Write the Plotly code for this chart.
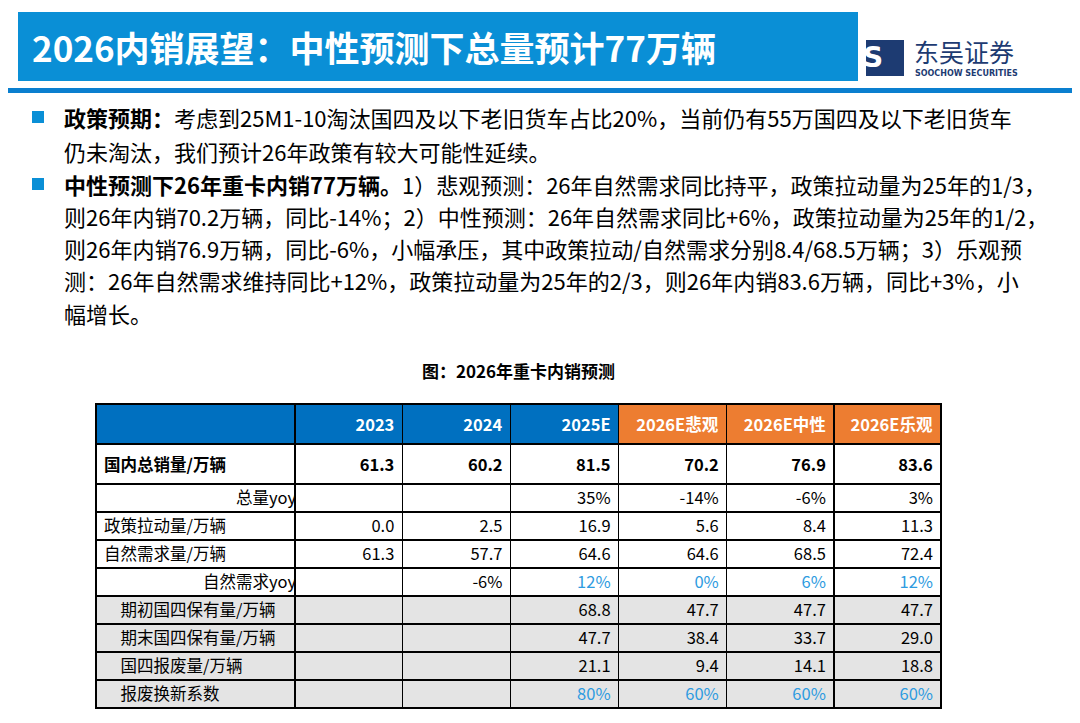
import plotly.graph_objects as go

# table data
columns = ["", "2023", "2024", "2025E", "2026E悲观", "2026E中性", "2026E乐观"]
row_labels = ["国内总销量/万辆", "总量yoy", "政策拉动量/万辆", "自然需求量/万辆", "自然需求yoy",
              "期初国四保有量/万辆", "期末国四保有量/万辆", "国四报废量/万辆", "报废换新系数"]
col_2023 = ["61.3", "", "0.0", "61.3", "", "", "", "", ""]
col_2024 = ["60.2", "", "2.5", "57.7", "-6%", "", "", "", ""]
col_2025 = ["81.5", "35%", "16.9", "64.6", "12%", "68.8", "47.7", "21.1", "80%"]
col_bear = ["70.2", "-14%", "5.6", "64.6", "0%", "47.7", "38.4", "9.4", "60%"]
col_base = ["76.9", "-6%", "8.4", "68.5", "6%", "47.7", "33.7", "14.1", "60%"]
col_bull = ["83.6", "3%", "11.3", "72.4", "12%", "47.7", "29.0", "18.8", "60%"]

title = "2026内销展望：中性预测下总量预计77万辆"
body_lines = [
    ("<b>政策预期：</b>考虑到25M1-10淘汰国四及以下老旧货车占比20%，当前仍有55万国四及以下老旧货车", True),
    ("仍未淘汰，我们预计26年政策有较大可能性延续。", False),
    ("<b>中性预测下26年重卡内销77万辆。</b>1）悲观预测：26年自然需求同比持平，政策拉动量为25年的1/3，", True),
    ("则26年内销70.2万辆，同比-14%；2）中性预测：26年自然需求同比+6%，政策拉动量为25年的1/2，", False),
    ("则26年内销76.9万辆，同比-6%，小幅承压，其中政策拉动/自然需求分别8.4/68.5万辆；3）乐观预", False),
    ("测：26年自然需求维持同比+12%，政策拉动量为25年的2/3，则26年内销83.6万辆，同比+3%，小", False),
    ("幅增长。", False),
]
line_y = [117, 151, 184, 216, 248, 280, 313]

W, H = 1080, 723
OFF = 8  # page body margin
FONT = "Noto Sans CJK SC"
BLUE_NUM = "#2e9be0"
GRAY = "#e4e4e4"

def px(x): return (x - OFF) / W
def py(y): return 1 - (y - OFF) / H

fig = go.Figure()

# label column: indentation via full-width spaces
pad = [0, 8, 0, 0, 6, 1, 1, 1, 1]
labels = []
for i, lab in enumerate(row_labels):
    t = "\u3000" * pad[i] + lab
    labels.append("<b>" + t + "</b>" if i == 0 else t)

data_cols = [col_2023, col_2024, col_2025, col_bear, col_base, col_bull]
cells = [labels] + [["<b>" + c[0] + "</b>"] + c[1:] for c in data_cols]
row_fill = ["white"] * 5 + [GRAY] * 4
font_colors = [["black"] * 9]
for j, c in enumerate(data_cols):
    fc = ["black"] * 9
    if j >= 2:
        fc[4] = BLUE_NUM
        fc[8] = BLUE_NUM
    font_colors.append(fc)

head_fill = ["#0070c0"] * 4 + ["#ed7d31"] * 3
fig.add_trace(go.Table(
    domain=dict(x=[px(96), px(941)], y=[0, py(404)]),
    columnwidth=[199, 107, 108, 108, 108, 107, 107],
    header=dict(values=["<b>" + c + "</b>" for c in columns], fill_color=head_fill,
                font=dict(family=FONT, size=16.5, color="white"), align="right", height=28,
                line=dict(color="black", width=1.5)),
    cells=dict(values=cells, fill_color=[row_fill] * 7,
               font=dict(family=FONT, size=16.5, color=font_colors),
               align=["left"] + ["right"] * 6, height=28,
               line=dict(color="black", width=1.5)),
))

shapes = [
    dict(type="rect", xref="paper", yref="paper", x0=px(18), x1=px(858), y0=py(81), y1=py(12),
         fillcolor="#0a8fd6", line_width=0),
    dict(type="rect", xref="paper", yref="paper", x0=px(0), x1=px(1090), y0=py(93), y1=py(88),
         fillcolor="#0a7fcf", line_width=0),
    dict(type="rect", xref="paper", yref="paper", x0=px(866), x1=px(904), y0=py(76), y1=py(40),
         fillcolor="#1d3b72", line_width=0),
]
annotations = [
    dict(x=px(30), y=py(46), text="<b>" + title + "</b>", showarrow=False, xanchor="left",
         yanchor="middle", font=dict(family=FONT, size=35, color="white")),
    dict(x=px(885), y=py(58), text="<b>S</b>", showarrow=False, yanchor="middle",
         font=dict(family="DejaVu Sans", size=28, color="white")),
    dict(x=px(912), y=py(51), text="东吴证券", showarrow=False, xanchor="left", yanchor="middle",
         font=dict(family=FONT, size=25, color="#1d3b72")),
    dict(x=px(913), y=py(73), text="<b>SOOCHOW SECURITIES</b>", showarrow=False, xanchor="left",
         yanchor="middle", font=dict(family="DejaVu Sans", size=8, color="#1d3b72")),
    dict(x=px(518), y=py(370), text="<b>图：2026年重卡内销预测</b>", showarrow=False,
         yanchor="middle", font=dict(family=FONT, size=17, color="black")),
]
for (txt, bullet), y in zip(body_lines, line_y):
    annotations.append(dict(x=px(62), y=py(y), text=txt, showarrow=False, xanchor="left",
                            yanchor="middle", font=dict(family=FONT, size=22, color="black")))
    if bullet:
        shapes.append(dict(type="rect", xref="paper", yref="paper", x0=px(32), x1=px(44),
                           y0=py(y + 6), y1=py(y - 6), fillcolor="#0a8fd6", line_width=0))

fig.update_layout(width=W, height=H, margin=dict(l=0, r=0, t=0, b=0),
                  paper_bgcolor="white", plot_bgcolor="white",
                  shapes=shapes, annotations=annotations)
fig.write_html("out.html")
